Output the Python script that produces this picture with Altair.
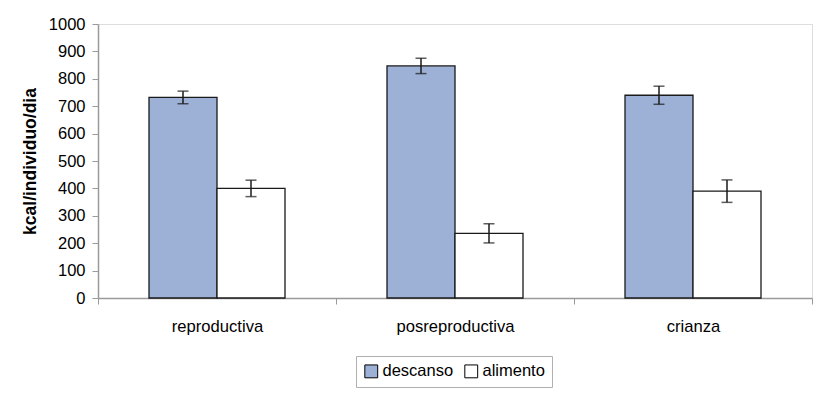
import altair as alt
import pandas as pd

categories = ["reproductiva", "posreproductiva", "crianza"]
series = ["descanso", "alimento"]
descanso = [732, 847, 740]
descanso_err = [23, 28, 33]
alimento = [400, 236, 390]
alimento_err = [30, 35, 41]
y_ticks = [0, 100, 200, 300, 400, 500, 600, 700, 800, 900, 1000]

rows = []
for i, c in enumerate(categories):
    rows.append({"cat": c, "serie": "descanso", "val": descanso[i], "err": descanso_err[i]})
    rows.append({"cat": c, "serie": "alimento", "val": alimento[i], "err": alimento_err[i]})
df = pd.DataFrame(rows)
df["lo"] = df["val"] - df["err"]
df["hi"] = df["val"] + df["err"]

FONT = "Liberation Sans"
GREY = "#9a9a9a"

x_axis = alt.Axis(title=None, labelAngle=0, tickBand="extent", tickSize=6,
                  labelPadding=14, labelFontSize=16.6, labelColor="#000",
                  domainColor=GREY, tickColor=GREY, domainWidth=1.5, labelFont=FONT)
y_axis = alt.Axis(title="kcal/individuo/dia", values=y_ticks,
                  format="d", labelOverlap=False,
                  grid=False, tickSize=6, labelPadding=7, labelFontSize=16.5,
                  labelColor="#000", domainColor=GREY, tickColor=GREY, domainWidth=1.5,
                  titleFontSize=17.5, titleFontWeight="bold", titleColor="#000",
                  titlePadding=9, labelFont=FONT, titleFont=FONT)
x_scale = alt.Scale(paddingInner=0, paddingOuter=0)
y_scale = alt.Scale(domain=[0, 1000], nice=False)

xos = alt.XOffset("serie:N", sort=series, scale=alt.Scale(paddingInner=0, paddingOuter=0.75))

bars = alt.Chart(df).mark_bar(stroke="#1a1a1a", strokeWidth=1.3).encode(
    x=alt.X("cat:N", sort=categories, scale=x_scale, axis=x_axis), xOffset=xos,
    y=alt.Y("val:Q", scale=y_scale, axis=y_axis),
    fill=alt.Fill("serie:N", sort=series,
                  scale=alt.Scale(domain=series, range=["#9DB1D7", "#ffffff"]),
                  legend=alt.Legend(title=None, orient="none", legendX=258, legendY=332,
                                    direction="horizontal", symbolType="square", symbolSize=165,
                                    symbolStrokeColor="#000", symbolStrokeWidth=1,
                                    labelFontSize=16.5, labelFont=FONT, labelColor="#000",
                                    columnPadding=8, labelOffset=3, padding=7,
                                    strokeColor="#b0b0b0", fillColor="#fff")),
)

xs = alt.X("cat:N", sort=categories, scale=x_scale, axis=None)
rules = alt.Chart(df).mark_rule(color="#1a1a1a", strokeWidth=1.5).encode(
    x=xs, xOffset=xos,
    y=alt.Y("lo:Q", scale=y_scale, axis=None), y2="hi:Q")
cap_lo = alt.Chart(df).mark_tick(color="#1a1a1a", orient="horizontal", size=11, thickness=1.5).encode(
    x=xs, xOffset=xos, y=alt.Y("lo:Q", scale=y_scale, axis=None))
cap_hi = alt.Chart(df).mark_tick(color="#1a1a1a", orient="horizontal", size=11, thickness=1.5).encode(
    x=xs, xOffset=xos, y=alt.Y("hi:Q", scale=y_scale, axis=None))

chart = alt.layer(bars, rules, cap_lo, cap_hi).resolve_axis(
    x="independent", y="independent"
).properties(
    width=714, height=274,
    autosize=alt.AutoSizeParams(type="none"),
    padding={"left": 90, "top": 16, "right": 2, "bottom": 90},
).configure_view(stroke=GREY, strokeWidth=1.5).configure(background="white")

chart.save("out.html", embed_options={"renderer": "svg", "actions": False})
